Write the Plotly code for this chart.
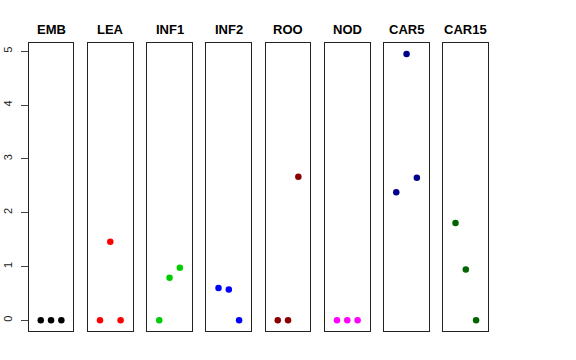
import plotly.graph_objects as go

panels = ["EMB", "LEA", "INF1", "INF2", "ROO", "NOD", "CAR5", "CAR15"]
colors = ["#000000", "#FF0000", "#00CD00", "#0000FF", "#8B0000", "#FF00FF", "#00008B", "#006400"]
x_pos = [1, 2, 3]
values = {
    "EMB": [0, 0, 0],
    "LEA": [0, 1.46, 0],
    "INF1": [0, 0.79, 0.975],
    "INF2": [0.60, 0.57, 0],
    "ROO": [0, 0, 2.67],
    "NOD": [0, 0, 0],
    "CAR5": [2.38, 4.95, 2.65],
    "CAR15": [1.81, 0.945, 0],
}
y_ticks = [0, 1, 2, 3, 4, 5]

W, H = 576, 360
left0, step, pw = 28.7, 59.25, 44.7
top_px, bot_px = 42.7, 331.0

fig = go.Figure()
layout = dict(
    width=W, height=H, margin=dict(l=0, r=0, t=0, b=0),
    plot_bgcolor="white", paper_bgcolor="white", showlegend=False,
    font=dict(family="Liberation Sans, Arial, sans-serif", color="black"),
)
annotations = []
for i, name in enumerate(panels):
    k = "" if i == 0 else str(i + 1)
    x0 = left0 + i * step
    fig.add_trace(go.Scatter(
        x=x_pos, y=values[name], mode="markers",
        marker=dict(color=colors[i], size=6.5, line=dict(width=0)),
        xaxis="x" + k, yaxis="y" + k, hoverinfo="skip",
    ))
    layout["xaxis" + k] = dict(
        domain=[x0 / W, (x0 + pw) / W], range=[-0.17, 4.17],
        showgrid=False, zeroline=False, showticklabels=False, ticks="",
        showline=True, mirror=True, linecolor="#222", linewidth=1,
        anchor="y" + k, fixedrange=True,
    )
    ya = dict(
        domain=[1 - bot_px / H, 1 - top_px / H], range=[-0.2, 5.16],
        showgrid=False, zeroline=False,
        showline=True, mirror=True, linecolor="#222", linewidth=1,
        anchor="x" + k, fixedrange=True,
    )
    if i == 0:
        ya.update(tickvals=y_ticks, ticktext=[str(v) for v in y_ticks],
                  ticks="outside", ticklen=7, tickcolor="#444", tickwidth=1,
                  tickangle=-90, tickfont=dict(size=11, color="#222"),
                  ticklabelstandoff=4)
    else:
        ya.update(showticklabels=False, ticks="")
    layout["yaxis" + k] = ya
    annotations.append(dict(
        text="<b>" + name + "</b>", x=(x0 + pw / 2) / W, y=1 - 29 / H,
        xref="paper", yref="paper", showarrow=False,
        font=dict(size=13, color="black"), xanchor="center", yanchor="middle",
    ))
layout["annotations"] = annotations
fig.update_layout(**layout)
fig.write_html("out.html", config={"displayModeBar": False},
               post_script="document.body.style.margin='0';")
